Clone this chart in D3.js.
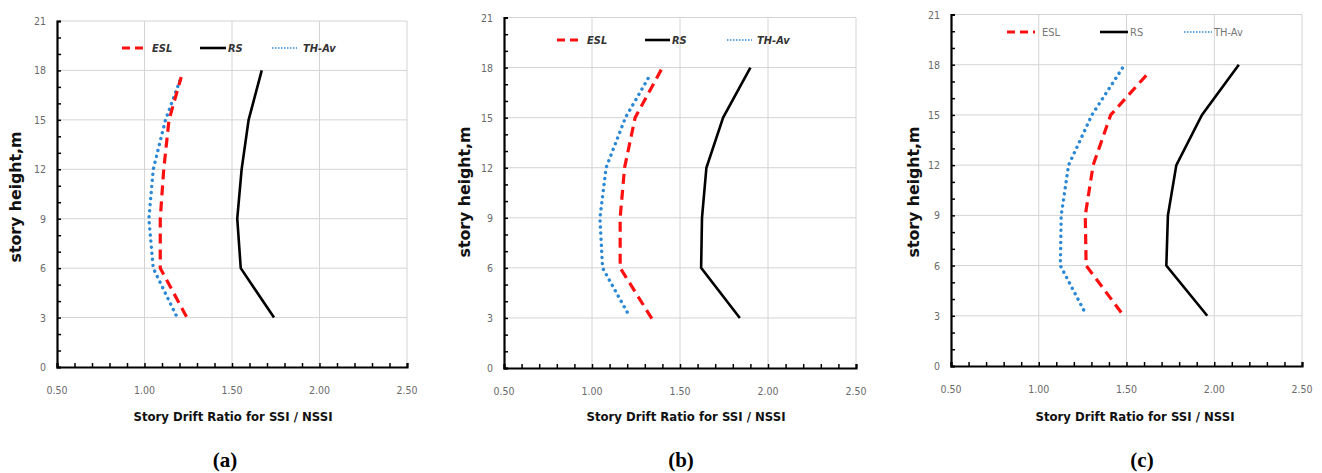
<!DOCTYPE html>
<html>
<head>
<meta charset="utf-8">
<script src="https://cdn.jsdelivr.net/npm/d3@7"></script>
<style>
  html, body { margin: 0; padding: 0; background: #ffffff; }
  svg { display: block; }
</style>
</head>
<body>
<svg id="chart" width="1322" height="473"></svg>
<script>
// ---------------- DATA ----------------
const panelLabels = ["(a)", "(b)", "(c)"];
const seriesNames = ["ESL", "RS", "TH-Av"];
const xTickValues = [0.5, 1.0, 1.5, 2.0, 2.5];
const yTickValues = [0, 3, 6, 9, 12, 15, 18, 21];
const xTitle = "Story Drift Ratio for SSI / NSSI";
const yTitle = "story height,m";

// Panel (a)
const eslHeightA = [3.05, 6, 9, 12, 15, 17.6];
const eslDriftA  = [1.24, 1.09, 1.09, 1.11, 1.14, 1.21];
const rsHeightA  = [3, 6, 9, 12, 15, 18];
const rsDriftA   = [1.74, 1.55, 1.53, 1.555, 1.595, 1.67];
const thHeightA  = [3.15, 6, 9, 12, 15, 17.6];
const thDriftA   = [1.18, 1.05, 1.025, 1.05, 1.12, 1.21];

// Panel (b)
const eslHeightB = [2.96, 6, 9, 12, 15, 18];
const eslDriftB  = [1.34, 1.16, 1.16, 1.185, 1.245, 1.40];
const rsHeightB  = [3, 6, 9, 12, 15, 18];
const rsDriftB   = [1.84, 1.62, 1.625, 1.65, 1.745, 1.90];
const thHeightB  = [3.35, 6, 9, 12, 15, 17.65];
const thDriftB   = [1.20, 1.06, 1.045, 1.08, 1.19, 1.335];

// Panel (c)
const eslHeightC = [3.2, 6, 9, 12, 15, 17.57];
const eslDriftC  = [1.47, 1.27, 1.265, 1.31, 1.41, 1.63];
const rsHeightC  = [3, 6, 9, 12, 15, 18];
const rsDriftC   = [1.96, 1.727, 1.736, 1.784, 1.93, 2.14];
const thHeightC  = [3.35, 6, 9, 12, 15, 17.9];
const thDriftC   = [1.256, 1.123, 1.128, 1.17, 1.303, 1.483];

const panelData = [
  { esl: [eslDriftA, eslHeightA], rs: [rsDriftA, rsHeightA], th: [thDriftA, thHeightA] },
  { esl: [eslDriftB, eslHeightB], rs: [rsDriftB, rsHeightB], th: [thDriftB, thHeightB] },
  { esl: [eslDriftC, eslHeightC], rs: [rsDriftC, rsHeightC], th: [thDriftC, thHeightC] }
];

// ---------------- LAYOUT ----------------
const layouts = [
  { left: 57,  right: 407,  top: 21,   bottom: 367, yTitleX: 16,  yTitleY: 197, xTitleX: 233,  captionX: 225,
    legendY: 48, leg: [[122,143,151],[200,226,227],[272,297,302]], italic: true },
  { left: 504, right: 856,  top: 17.5, bottom: 368, yTitleX: 465, yTitleY: 192, xTitleX: 686,  captionX: 681,
    legendY: 40, leg: [[557,580,586],[645,670,671],[727,752,756]], italic: true },
  { left: 951, right: 1302, top: 14.5, bottom: 366, yTitleX: 914, yTitleY: 192, xTitleX: 1135, captionX: 1142,
    legendY: 32, leg: [[1007,1035,1041],[1100,1128,1129],[1184,1212,1213]], italic: false }
];

const colors = { esl: "#ff1010", rs: "#000000", th: "#2a88d4" };
const tickFont = "'Liberation Sans Narrow', 'DejaVu Sans Condensed', sans-serif";

const svg = d3.select("#chart");

layouts.forEach((L, i) => {
  const x = d3.scaleLinear().domain([0.5, 2.5]).range([L.left, L.right]);
  const y = d3.scaleLinear().domain([0, 21]).range([L.bottom, L.top]);
  const g = svg.append("g");

  // grid
  g.append("g").selectAll("line.v").data(xTickValues.slice(1)).join("line")
    .attr("x1", d => x(d)).attr("x2", d => x(d))
    .attr("y1", y(0)).attr("y2", y(21))
    .attr("stroke", "#d4d4d4").attr("stroke-width", 1);
  g.append("g").selectAll("line.h").data(yTickValues.slice(1)).join("line")
    .attr("x1", x(0.5)).attr("x2", x(2.5))
    .attr("y1", d => y(d)).attr("y2", d => y(d))
    .attr("stroke", "#d4d4d4").attr("stroke-width", 1);

  // axes (ticks inside)
  const xAxis = d3.axisBottom(x).tickValues(d3.range(5, 26).map(v => v / 10))
    .tickSize(-4).tickFormat("");
  const yAxis = d3.axisLeft(y).tickValues(d3.range(0, 22)).tickSize(-4).tickFormat("");
  const gx = g.append("g").attr("transform", `translate(0,${L.bottom})`).call(xAxis);
  const gy = g.append("g").attr("transform", `translate(${L.left},0)`).call(yAxis);
  [gx, gy].forEach(a => {
    a.select(".domain").attr("stroke", "#000").attr("stroke-width", 2.2);
    a.selectAll(".tick line").attr("stroke", "#000").attr("stroke-width", 1.5);
  });

  // tick labels
  g.append("g").selectAll("text").data(xTickValues).join("text")
    .attr("x", d => x(d)).attr("y", L.bottom + 27)
    .attr("text-anchor", "middle")
    .attr("font-family", tickFont).attr("font-size", 10.5).attr("fill", "#6a6a6a")
    .text(d => d3.format(".2f")(d));
  g.append("g").selectAll("text").data(yTickValues).join("text")
    .attr("x", L.left - 11).attr("y", d => y(d) + 4)
    .attr("text-anchor", "end")
    .attr("font-family", tickFont).attr("font-size", 10.5).attr("fill", "#6a6a6a")
    .text(d => d);

  // series
  const pd = panelData[i];
  const line = d3.line().x(d => x(d[0])).y(d => y(d[1]));
  const pts = s => s[0].map((v, k) => [v, s[1][k]]);
  g.append("path").datum(pts(pd.th)).attr("d", line)
    .attr("fill", "none").attr("stroke", colors.th).attr("stroke-width", 3.4)
    .attr("stroke-linecap", "round").attr("stroke-dasharray", "0.1 6");
  g.append("path").datum(pts(pd.esl)).attr("d", line)
    .attr("fill", "none").attr("stroke", colors.esl).attr("stroke-width", 3.2)
    .attr("stroke-dasharray", "10 6");
  g.append("path").datum(pts(pd.rs)).attr("d", line)
    .attr("fill", "none").attr("stroke", colors.rs).attr("stroke-width", 2.6)
    .attr("stroke-linejoin", "miter");

  // legend
  const legStyles = [
    { c: colors.esl, w: 3, dash: "8 5", cap: "butt" },
    { c: colors.rs, w: 2.6, dash: null, cap: "butt" },
    { c: colors.th, w: 1.5, dash: "1.5 1.5", cap: "butt" }
  ];
  seriesNames.forEach((name, k) => {
    const [x1, x2, tx] = L.leg[k];
    const s = legStyles[k];
    g.append("line").attr("x1", x1).attr("x2", x2).attr("y1", L.legendY).attr("y2", L.legendY)
      .attr("stroke", s.c).attr("stroke-width", s.w)
      .attr("stroke-dasharray", s.dash).attr("stroke-linecap", s.cap);
    g.append("text").attr("x", tx + 1).attr("y", L.legendY + 4)
      .attr("font-family", tickFont).attr("font-size", 11)
      .attr("font-style", L.italic ? "italic" : "normal")
      .attr("font-weight", L.italic ? "bold" : "normal")
      .attr("fill", L.italic ? "#333" : "#777")
      .text(name);
  });

  // axis titles
  g.append("text").attr("x", L.xTitleX).attr("y", 421)
    .attr("text-anchor", "middle")
    .attr("font-family", "'DejaVu Sans', sans-serif").attr("font-weight", "bold")
    .attr("font-size", 13).attr("fill", "#111")
    .attr("textLength", 199).attr("lengthAdjust", "spacingAndGlyphs")
    .text(xTitle);
  g.append("text")
    .attr("transform", `translate(${L.yTitleX + 5},${L.yTitleY}) rotate(-90)`)
    .attr("text-anchor", "middle")
    .attr("font-family", "'DejaVu Sans', sans-serif").attr("font-weight", "bold")
    .attr("font-size", 15).attr("fill", "#111")
    .attr("textLength", 131).attr("lengthAdjust", "spacingAndGlyphs")
    .text(yTitle);

  // caption
  g.append("text").attr("x", L.captionX).attr("y", 467)
    .attr("text-anchor", "middle")
    .attr("font-family", "'Liberation Serif', 'Times New Roman', serif").attr("font-weight", "bold")
    .attr("font-size", 21).attr("fill", "#000")
    .text(panelLabels[i]);
});
</script>
</body>
</html>
